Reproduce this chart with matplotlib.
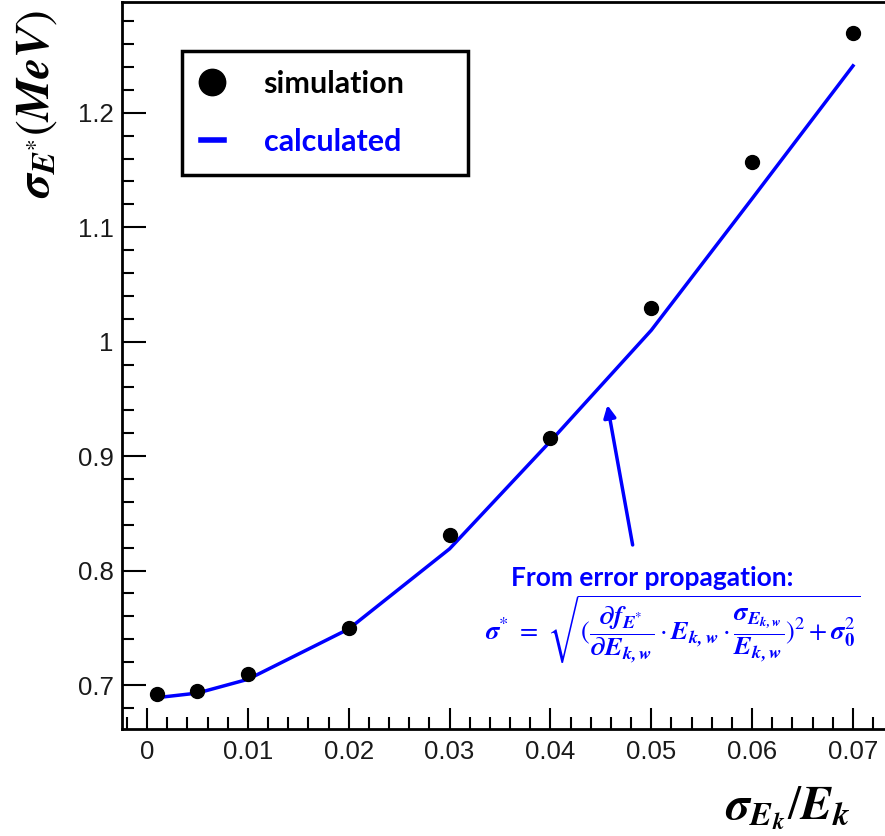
import matplotlib
matplotlib.use("Agg")
import matplotlib.pyplot as plt
from matplotlib.lines import Line2D
from matplotlib.ticker import MultipleLocator, FuncFormatter

# data
sim_x = [0.001, 0.005, 0.01, 0.02, 0.03, 0.04, 0.05, 0.06, 0.07]
sim_y = [0.692, 0.695, 0.710, 0.750, 0.831, 0.916, 1.029, 1.157, 1.270]
calc_x = [0.001, 0.005, 0.01, 0.02, 0.03, 0.04, 0.05, 0.06, 0.07]
calc_y = [0.689, 0.693, 0.705, 0.749, 0.819, 0.913, 1.010, 1.125, 1.241]
x_ticks = [0, 0.01, 0.02, 0.03, 0.04, 0.05, 0.06, 0.07]
y_ticks = [0.7, 0.8, 0.9, 1.0, 1.1, 1.2]

plt.rcParams["mathtext.fontset"] = "stix"
plt.rcParams["font.family"] = ["Liberation Sans", "DejaVu Sans"]
blue = "#0000ff"

fig = plt.figure(figsize=(8.85, 8.36), dpi=100)
ax = fig.add_axes([122 / 885, 107 / 836, 766 / 885, 727.5 / 836])

ax.plot(calc_x, calc_y, color=blue, lw=2.5, zorder=2)
ax.plot(sim_x, sim_y, "o", color="black", ms=10, zorder=3)

ax.set_xlim(-0.00248, 0.07347)
ax.set_ylim(0.6616, 1.2972)
ax.set_xticks(x_ticks)
ax.set_yticks(y_ticks)
ax.xaxis.set_minor_locator(MultipleLocator(0.002))
ax.yaxis.set_minor_locator(MultipleLocator(0.02))
ax.xaxis.set_major_formatter(FuncFormatter(lambda v, p: "0" if abs(v) < 1e-9 else "%g" % v))
ax.yaxis.set_major_formatter(FuncFormatter(lambda v, p: "%g" % round(v, 2)))

ax.tick_params(which="both", direction="in", width=1.5, colors="black",
               top=False, right=False, labelcolor="#1a1a1a")
ax.tick_params(axis="x", which="major", length=15, pad=8, labelsize=18.5)
ax.tick_params(axis="x", which="minor", length=8.6)
ax.tick_params(axis="y", which="major", length=17, pad=6, labelsize=18.5)
ax.tick_params(axis="y", which="minor", length=8.6)
for s in ax.spines.values():
    s.set_linewidth(2)

# legend, stretched to the reference box width
handles = [Line2D([], [], marker="o", ls="none", color="black", ms=19),
           Line2D([], [], color=blue, lw=4)]
leg = ax.legend(handles, ["simulation", "calculated"], loc="upper left",
                bbox_to_anchor=(182 / 885, 1 - 174 / 836, 286 / 885, 123 / 836),
                bbox_transform=fig.transFigure, mode="expand",
                frameon=True, fancybox=False, edgecolor="black", framealpha=1,
                prop={"family": "Lato", "weight": "bold", "size": 22},
                handlelength=0.75, handletextpad=1.3, borderpad=0.62,
                labelspacing=0.98, borderaxespad=0)
leg.get_frame().set_linewidth(2.5)
leg.get_texts()[0].set_color("black")
leg.get_texts()[1].set_color(blue)

# axis titles
fig.text(37 / 885, 1 - 104 / 836,
         r"$\mathbfit{\sigma}_{\mathbfit{E}^{*}}\mathrm{(}\mathbfit{MeV}\mathrm{)}$",
         rotation=90, ha="center", va="center", fontsize=34)
fig.text(788 / 885, 1 - 808 / 836,
         r"$\mathbfit{\sigma}_{\mathbfit{E}_{\mathbfit{k}}}/\mathbfit{E}_{\mathbfit{k}}$",
         ha="center", va="center", fontsize=34)

# annotation
ax.annotate("", xy=(0.0456, 0.947), xytext=(0.0482, 0.820),
            arrowprops=dict(arrowstyle="-|>", color=blue, lw=2.5, mutation_scale=18))
fig.text(652 / 885, 1 - 578 / 836, "From error propagation:", color=blue,
         family="Lato", weight="bold", fontsize=19, ha="center", va="center")
fig.text(673 / 885, 1 - 630 / 836,
         r"$\mathbfit{\sigma}^{*}\ =\ \sqrt{(\dfrac{\mathbfit{\partial f}_{\mathbfit{E}^{*}}}"
         r"{\mathbfit{\partial E}_{\mathbfit{k,w}}}\cdot \mathbfit{E}_{\mathbfit{k,w}}\cdot "
         r"\dfrac{\mathbfit{\sigma}_{\mathbfit{E}_{\mathbfit{k,w}}}}{\mathbfit{E}_{\mathbfit{k,w}}})^{2}"
         r"+\mathbfit{\sigma}_{\mathbf{0}}^{2}}$",
         color=blue, fontsize=19, ha="center", va="center")

fig.savefig("out.png", dpi=100)
